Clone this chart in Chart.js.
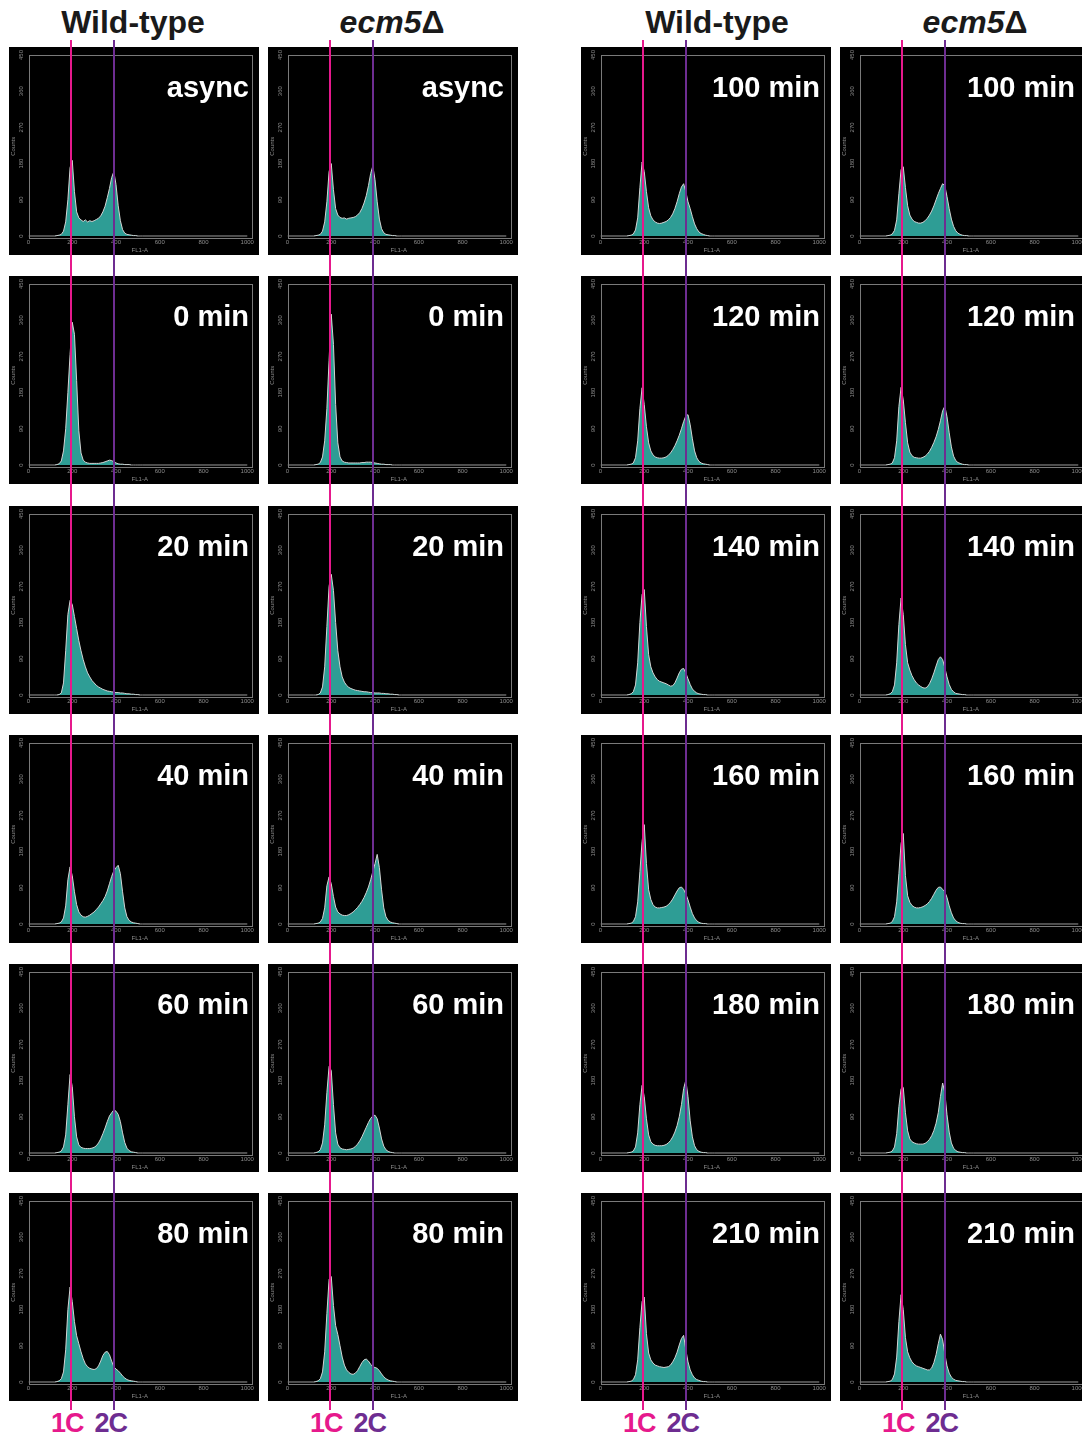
<!DOCTYPE html>
<html>
<head>
<meta charset="utf-8">
<script src="https://cdn.jsdelivr.net/npm/chart.js@4.4.1/dist/chart.umd.min.js"></script>
<style>
  html, body { margin:0; padding:0; background:#fff; }
  body { width:1082px; height:1439px; position:relative; overflow:hidden; font-family:"Liberation Sans", Arial, sans-serif; }
  canvas.panel { position:absolute; }
  .hdr { position:absolute; font-weight:bold; font-size:32px; line-height:32px; color:#1a1a1a; white-space:nowrap; transform:translateX(-50%); }
  .hdr .it { font-style:italic; }
  .tlab { position:absolute; font-weight:bold; font-size:29px; line-height:29px; color:#fff; white-space:nowrap; transform:translateX(-100%); z-index:3; }
  .vline { position:absolute; width:2px; z-index:4; }
  .clab { position:absolute; font-weight:bold; font-size:27px; line-height:27px; white-space:nowrap; transform:translateX(-50%); letter-spacing:-1px; }
</style>
</head>
<body>
<script>
// ---------------- DATA ----------------
// FL1-A channel (bin centres) shared by every histogram
const channels = [0,
  120,130,140,150,160,170,180,190,200,210,
  220,230,240,250,260,270,280,290,300,310,
  320,330,340,350,360,370,380,390,400,410,
  420,430,440,450,460,470,480,490,500,510,
  520, 1000];

const xTicks = [0, 200, 400, 600, 800, 1000];
const yTicks = [0, 90, 180, 270, 360, 450];

const leftTimes  = ['async', '0 min', '20 min', '40 min', '60 min', '80 min'];
const rightTimes = ['100 min', '120 min', '140 min', '160 min', '180 min', '210 min'];
const strainNames = ['Wild-type', 'ecm5'];
const strainSuffix = ['', '\u0394'];
const markers = ['1C', '2C'];
const markerValues = [195, 390];

// Counts per channel — Wild-type
const wtAsync = [0, 0,1,2,4,12,35,90,170,188,110, 60,45,40,36,40,35,38,36,38,41, 44,50,60,74,95,118,145,160,128,75, 38,16,7,4,3,2,1,1,0,0, 0, 0];
const wt0   = [0, 0,1,3,10,35,90,180,275,355,325, 210,85,30,12,7,5,4,4,4,4, 4,5,6,8,10,12,11,8,5,3, 2,2,1,1,1,0,0,0,0,0, 0, 0];
const wt20  = [0, 0,0,1,5,30,110,200,235,225,195, 165,135,110,88,70,55,45,36,30,24, 20,17,14,12,10,9,8,7,6,6, 5,5,4,3,3,2,2,1,1,0, 0, 0];
const wt40  = [0, 0,1,2,5,15,45,110,142,120,80, 48,30,22,18,17,19,22,26,30,36, 42,50,58,68,82,100,118,132,140,146, 125,80,40,18,9,5,3,2,1,0, 0, 0];
const wt60  = [0, 0,1,2,5,15,45,120,195,165,90, 40,20,14,12,11,11,11,12,14,18, 25,35,48,62,78,92,100,107,104,96, 78,50,26,12,6,3,2,1,0,0, 0, 0];
const wt80  = [0, 0,1,3,8,25,80,180,236,200,150, 115,95,75,58,45,38,34,32,31,33, 40,52,66,74,76,68,52,38,32,28, 22,15,10,6,4,3,2,1,0,0, 0, 0];
const wt100 = [0, 0,1,2,5,15,45,120,184,160,110, 70,50,40,35,32,31,32,34,36,40, 46,55,68,85,105,122,130,110,85,68, 48,30,18,10,6,4,2,1,0,0, 0, 0];
const wt120 = [0, 0,1,2,5,18,60,140,192,150,95, 55,35,25,20,18,17,17,18,20,24, 30,38,48,60,74,90,108,122,125,100, 65,35,18,9,5,3,2,1,0,0, 0, 0];
const wt140 = [0, 0,1,3,8,25,80,180,250,262,170, 100,70,55,45,38,34,32,30,28,25, 22,23,30,42,55,64,66,55,40,26, 15,9,5,3,2,1,1,0,0,0, 0, 0];
const wt160 = [0, 0,1,2,6,18,55,130,205,247,150, 85,61,48,42,40,40,41,42,44,48, 54,62,72,82,90,92,86,75,60,42, 26,15,8,4,2,1,1,0,0,0, 0, 0];
const wt180 = [0, 0,1,2,5,15,50,120,168,140,85, 45,28,22,19,18,18,18,19,21,25, 31,40,52,68,90,120,160,181,140,80, 40,18,8,4,2,1,1,0,0,0, 0, 0];
const wt210 = [0, 0,1,2,6,18,55,135,200,211,120, 72,55,47,42,40,38,37,36,37,38, 42,50,60,74,92,108,116,80,50,30, 18,10,6,4,2,1,1,0,0,0, 0, 0];

// Counts per channel — ecm5Δ
const ecAsync = [0, 0,1,2,4,12,35,85,160,180,115, 68,52,46,44,45,42,44,45,46,48, 52,58,68,82,100,125,155,174,140,85, 42,18,8,4,3,2,1,1,0,0, 0, 0];
const ec0   = [0, 0,1,2,6,20,60,140,260,375,300, 150,55,20,10,7,6,5,5,5,5, 5,5,6,6,7,7,7,6,5,4, 3,2,2,1,1,1,0,0,0,0, 0, 0];
const ec20  = [0, 0,0,1,5,20,70,170,270,300,260, 180,110,70,45,32,24,19,16,14,12, 11,10,9,8,8,7,6,6,5,5, 5,4,4,3,3,2,2,1,1,0, 0, 0];
const ec40  = [0, 0,1,2,5,14,40,95,117,100,68, 42,30,25,22,21,21,23,26,30,35, 41,48,56,66,78,92,110,130,150,173, 140,85,40,18,9,5,3,2,1,0, 0, 0];
const ec60  = [0, 0,1,3,8,25,70,150,215,205,120, 50,22,13,10,9,8,9,10,12,16, 22,30,40,52,64,76,86,92,94,85, 62,35,17,8,4,2,1,0,0,0, 0, 0];
const ec80  = [0, 0,1,3,8,25,75,170,255,262,190, 140,118,90,62,42,30,24,20,19,22, 28,38,48,55,57,52,44,38,36,34, 28,20,13,8,5,3,2,1,0,0, 0, 0];
const ec100 = [0, 0,1,2,5,14,40,105,165,172,120, 75,52,42,36,34,32,32,34,38,44, 52,62,75,90,105,118,130,125,98,68, 42,24,13,7,4,2,1,1,0,0, 0, 0];
const ec120 = [0, 0,1,2,5,18,60,145,193,162,105, 55,32,23,19,18,17,17,19,22,27, 34,44,56,70,88,110,135,146,120,80, 45,22,11,6,4,2,1,1,0,0, 0, 0];
const ec140 = [0, 0,1,3,8,25,80,175,241,200,125, 80,62,48,38,30,25,21,18,17,20, 28,40,55,72,88,95,88,68,45,26, 14,8,4,3,2,1,1,0,0,0, 0, 0];
const ec160 = [0, 0,1,2,6,18,55,125,200,225,120, 70,54,46,42,40,40,41,43,46,50, 56,64,74,84,91,92,86,80,66,45, 28,15,8,4,2,1,1,0,0,0, 0, 0];
const ec180 = [0, 0,1,2,5,15,48,115,160,163,100, 55,35,28,25,23,22,22,22,24,28, 34,43,56,74,100,140,174,150,95,52, 25,12,6,3,2,1,1,0,0,0, 0, 0];
const ec210 = [0, 0,1,2,6,20,62,150,217,180,110, 75,60,50,44,40,38,36,34,32,30, 30,35,48,68,95,119,105,70,40,22, 12,7,4,3,2,1,1,0,0,0, 0, 0];

// columns of panels (top to bottom)
const columns = [
  { strain: 0, times: leftTimes,  series: [wtAsync, wt0, wt20, wt40, wt60, wt80] },
  { strain: 1, times: leftTimes,  series: [ecAsync, ec0, ec20, ec40, ec60, ec80] },
  { strain: 0, times: rightTimes, series: [wt100, wt120, wt140, wt160, wt180, wt210] },
  { strain: 1, times: rightTimes, series: [ec100, ec120, ec140, ec160, ec180, ec210] }
];

// ---------------- LAYOUT ----------------
const COL_X = [9, 268, 581, 840];
const ROW_Y = [47, 276, 506, 735, 964, 1193];
const PANEL_W = 250, PANEL_H = 208;
const HDR_X = [133, 392, 717, 975];
const LABEL_RIGHT = [249, 504, 820, 1075];
const LINE_COLORS = ['#e6198c', '#6e2d91'];
const TEAL = '#2e9d95';
const AXIS_GREY = '#8c8c8c';

const bgPlugin = {
  id: 'bg',
  beforeDraw(chart) {
    const c = chart.ctx;
    c.save(); c.fillStyle = '#000'; c.fillRect(0, 0, chart.width, chart.height); c.restore();
  },
  afterDraw(chart) {
    const a = chart.chartArea, c = chart.ctx;
    c.save(); c.strokeStyle = '#7a7a7a'; c.lineWidth = 1;
    c.strokeRect(Math.round(a.left) + 0.5, Math.round(a.top) + 0.5, Math.round(a.right - a.left), Math.round(a.bottom - a.top));
    c.restore();
  }
};

function makePanel(colIdx, rowIdx, counts) {
  const cv = document.createElement('canvas');
  cv.className = 'panel';
  cv.width = PANEL_W; cv.height = PANEL_H;
  cv.style.left = COL_X[colIdx] + 'px';
  cv.style.top = ROW_Y[rowIdx] + 'px';
  cv.style.width = PANEL_W + 'px'; cv.style.height = PANEL_H + 'px';
  document.body.appendChild(cv);
  const tickFont = { size: 6, family: '"Liberation Sans", Arial, sans-serif' };
  return new Chart(cv, {
    type: 'line',
    data: {
      datasets: [{
        data: channels.map((c, i) => ({ x: c, y: counts[i] })),
        fill: 'origin',
        backgroundColor: TEAL,
        borderColor: '#d4d4d4',
        borderWidth: 1,
        pointRadius: 0,
        tension: 0,
        segment: {
          borderColor: ctx => (ctx.p0.parsed.y === 0 && ctx.p1.parsed.y === 0) ? '#9a9a9a' : undefined
        }
      }]
    },
    options: {
      responsive: false,
      animation: false,
      devicePixelRatio: 1,
      layout: { padding: { top: 8, right: 8, left: 0, bottom: 0 } },
      plugins: { legend: { display: false }, tooltip: { enabled: false } },
      scales: {
        x: {
          type: 'linear', min: 0, max: 1017,
          afterBuildTicks: s => { s.ticks = xTicks.map(v => ({ value: v })); },
          ticks: { color: AXIS_GREY, font: tickFont, padding: 1.5, maxRotation: 0, minRotation: 0, autoSkip: false,
                   callback: v => String(v) },
          grid: { display: false, drawTicks: false, tickLength: 0 },
          border: { display: false },
          title: { display: true, text: 'FL1-A', color: AXIS_GREY, font: tickFont, padding: { top: 0, bottom: 1.4 } },
          afterFit: s => { s.height = 17.4; }
        },
        y: {
          type: 'linear', min: -4, max: 450,
          afterBuildTicks: s => { s.ticks = yTicks.map(v => ({ value: v })); },
          ticks: { color: AXIS_GREY, font: tickFont, padding: 2, minRotation: 90, maxRotation: 90, crossAlign: 'center', autoSkip: false,
                   callback: v => String(v) },
          grid: { display: false, drawTicks: false, tickLength: 0 },
          border: { display: false },
          title: { display: true, text: 'Counts', color: AXIS_GREY, font: tickFont, padding: { top: 0.5, bottom: 0 } },
          afterFit: s => { s.width = 19.5; }
        }
      }
    },
    plugins: [bgPlugin]
  });
}

function addDiv(cls, text, left, top, color) {
  const d = document.createElement('div');
  d.className = cls;
  d.textContent = text;
  d.style.left = left + 'px';
  d.style.top = top + 'px';
  if (color) d.style.color = color;
  document.body.appendChild(d);
  return d;
}

const charts = columns.map((col, ci) => col.series.map((s, ri) => makePanel(ci, ri, s)));

// headers, time labels
columns.forEach((col, ci) => {
  const h = addDiv('hdr', '', HDR_X[ci], 6);
  const name = document.createElement('span');
  name.textContent = strainNames[col.strain];
  if (col.strain === 1) name.className = 'it';
  h.appendChild(name);
  if (strainSuffix[col.strain]) h.appendChild(document.createTextNode(strainSuffix[col.strain]));
  col.times.forEach((t, ri) => addDiv('tlab', t, LABEL_RIGHT[ci], ROW_Y[ri] + 25.5));
});

// 1C / 2C marker lines, positioned through each column's x scale
columns.forEach((col, ci) => {
  const xs = charts[ci][0].scales.x;
  markerValues.forEach((v, mi) => {
    const px = COL_X[ci] + xs.getPixelForValue(v);
    const line = document.createElement('div');
    line.className = 'vline';
    line.style.left = (px - 1) + 'px';
    line.style.top = '40px';
    line.style.height = '1370px';
    line.style.background = LINE_COLORS[mi];
    document.body.appendChild(line);
    addDiv('clab', markers[mi], px + (mi === 0 ? -4 : -3), 1410, LINE_COLORS[mi]);
  });
});
</script>
</body>
</html>
